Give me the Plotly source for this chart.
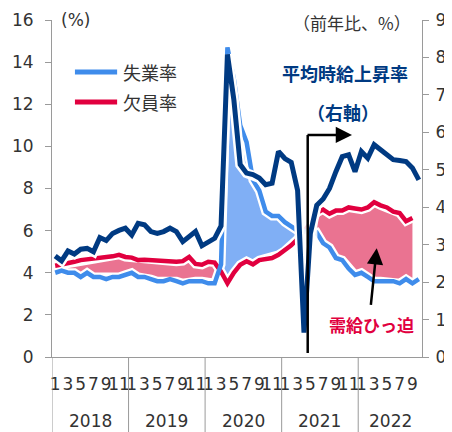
import plotly.graph_objects as go

# ---------------- data ----------------
years = [2018, 2019, 2020, 2021, 2022]
months_in_year = [12, 12, 12, 12, 10]

# unemployment rate (%), left axis, Jan 2018 - Oct 2022
unemployment = [
    4.0, 4.1, 4.0, 4.0, 3.8, 4.0, 3.8, 3.8, 3.7, 3.8, 3.8, 3.9,
    4.0, 3.8, 3.8, 3.7, 3.6, 3.6, 3.7, 3.6, 3.5, 3.6, 3.6, 3.6,
    3.5, 3.5, 4.4, 14.7, 13.2, 11.0, 10.2, 8.4, 7.9, 6.9, 6.7, 6.7,
    6.4, 6.2, 6.0, 6.0, 5.8, 5.9, 5.4, 5.2, 4.7, 4.6, 4.2, 3.9,
    4.0, 3.8, 3.6, 3.6, 3.6, 3.6, 3.5, 3.7, 3.5, 3.7,
]

# job openings (vacancy) rate (%), left axis, Jan 2018 - Sep 2022
vacancy = [
    4.33, 4.38, 4.45, 4.52, 4.60, 4.64, 4.65, 4.67, 4.72, 4.78, 4.85, 4.75,
    4.72, 4.60, 4.62, 4.60, 4.55, 4.53, 4.52, 4.52, 4.55, 4.75, 4.42, 4.38,
    4.52, 4.48, 4.05, 3.50, 4.00, 4.38, 4.55, 4.40, 4.60, 4.65, 4.70, 4.85,
    5.05, 5.30, 5.60, 5.95, 6.35, 6.85, 7.00, 6.80, 6.95, 6.95, 7.10, 7.05,
    7.00, 7.10, 7.35, 7.20, 7.10, 6.90, 6.83, 6.45, 6.60,
]

# average hourly earnings growth (y/y %), right axis, Jan 2018 - Oct 2022
wage = [
    2.70, 2.57, 2.83, 2.75, 2.88, 2.90, 2.81, 3.19, 3.11, 3.30, 3.38, 3.44,
    3.26, 3.57, 3.53, 3.35, 3.30, 3.35, 3.44, 3.35, 3.08, 3.21, 3.35, 2.97,
    3.08, 3.17, 3.50, 8.08, 6.88, 5.14, 4.91, 4.87, 4.78, 4.60, 4.64, 5.49,
    5.30, 5.20, 4.45, 0.65, 3.30, 4.05, 4.22, 4.50, 4.95, 5.35, 5.40, 4.95,
    5.49, 5.31, 5.67, 5.54, 5.40, 5.27, 5.25, 5.22, 5.05, 4.73,
]

left_ticks = list(range(0, 17, 2))
right_ticks = list(range(0, 10))

# ---------------- colors ----------------
C_UNEMP = "#3F8CEB"
C_VAC = "#E1003F"
C_WAGE = "#003A82"
F_PINK = "#EA7391"
F_BLUE = "#80AFF5"
AXIS = "#9A9A9A"
TXT = "#333333"
JP = "Noto Sans CJK JP"

# ---------------- x positions ----------------
month_num = []
for y, c in zip(years, months_in_year):
    month_num += list(range(1, c + 1))
x_all = list(range(len(unemployment)))
tickvals = [i for i, m in enumerate(month_num) if m % 2 == 1]
ticktext = [str(month_num[i]) for i in tickvals]

# ---------------- fill polygons (with crossings) ----------------
n = len(vacancy)
xs, us, vs = [], [], []
for i in range(n):
    xs.append(i); us.append(unemployment[i]); vs.append(vacancy[i])
    if i < n - 1:
        d0 = vacancy[i] - unemployment[i]
        d1 = vacancy[i + 1] - unemployment[i + 1]
        if d0 * d1 < 0:
            t = d0 / (d0 - d1)
            uu = unemployment[i] + t * (unemployment[i + 1] - unemployment[i])
            xs.append(i + t); us.append(uu); vs.append(uu)
upper = [max(a, b) for a, b in zip(us, vs)]

fig = go.Figure()
nohover = dict(hoverinfo="skip", showlegend=False)

# pink: vacancy above unemployment
fig.add_trace(go.Scatter(x=xs, y=us, mode="lines", line=dict(width=0), **nohover))
fig.add_trace(go.Scatter(x=xs, y=upper, mode="lines", line=dict(width=0),
                         fill="tonexty", fillcolor=F_PINK, **nohover))
# light blue: unemployment above vacancy
fig.add_trace(go.Scatter(x=xs, y=vs, mode="lines", line=dict(width=0), **nohover))
fig.add_trace(go.Scatter(x=xs, y=upper, mode="lines", line=dict(width=0),
                         fill="tonexty", fillcolor=F_BLUE, **nohover))

# white glows
fig.add_trace(go.Scatter(x=x_all, y=unemployment, mode="lines",
                         line=dict(color="white", width=9), **nohover))
fig.add_trace(go.Scatter(x=x_all[:n], y=vacancy, mode="lines",
                         line=dict(color="white", width=9), **nohover))
# lines
fig.add_trace(go.Scatter(x=x_all[:n], y=vacancy, mode="lines", name="欠員率",
                         line=dict(color=C_VAC, width=4.5), showlegend=False))
fig.add_trace(go.Scatter(x=x_all, y=unemployment, mode="lines", name="失業率",
                         line=dict(color=C_UNEMP, width=4.5), showlegend=False))

# white veil behind the arrow (decoration)
fig.add_trace(go.Scatter(x=[37.8, 41.1, 41.1, 37.8, 37.8], y=[4.2, 4.2, 8.2, 8.2, 4.2],
                         mode="lines", line=dict(width=0), fill="toself",
                         fillcolor="rgba(255,255,255,0.85)", **nohover))

# wage on right axis
fig.add_trace(go.Scatter(x=x_all, y=wage, mode="lines", yaxis="y2",
                         line=dict(color="white", width=10), **nohover))
fig.add_trace(go.Scatter(x=x_all, y=wage, mode="lines", yaxis="y2", name="平均時給上昇率",
                         line=dict(color=C_WAGE, width=5), showlegend=False))

# ---------------- layout ----------------
# the page body has an 8px margin, so the figure is sized/offset to compensate
axis_common = dict(showgrid=False, zeroline=False, showline=True, linecolor=AXIS,
                   linewidth=1, tickcolor=AXIS, tickfont=dict(size=17, color=TXT,
                   family="DejaVu Sans"), automargin=False)
fig.update_layout(
    width=444, height=424,
    margin=dict(l=44, r=30, t=12, b=75),
    plot_bgcolor="white", paper_bgcolor="white",
    showlegend=False,
    font=dict(family="DejaVu Sans", size=17, color=TXT),
    xaxis=dict(range=[-0.5, len(unemployment) - 0.5], tickmode="array",
               tickvals=tickvals, ticktext=ticktext, tickangle=0, ticks="",
               ticklabelstandoff=12, **axis_common),
    yaxis=dict(range=[0, 16], tickmode="array", tickvals=left_ticks, ticks="outside",
               ticklen=6, ticklabelstandoff=8, **axis_common),
    yaxis2=dict(range=[0, 9], tickmode="array", tickvals=right_ticks, ticks="outside",
                ticklen=6, overlaying="y", side="right", ticklabelstandoff=3, **axis_common),
)

shapes = []
# year dividers below the axis
starts = []
s = 0
for c in months_in_year:
    starts.append(s)
    s += c
for st in starts:
    shapes.append(dict(type="line", xref="x", yref="paper", x0=st - 0.5, x1=st - 0.5,
                       y0=0, y1=-0.235, line=dict(color=AXIS, width=1)))
# legend samples
shapes.append(dict(type="line", xref="paper", yref="paper", x0=0.062, x1=0.176,
                   y0=0.8457, y1=0.8457, line=dict(color=C_UNEMP, width=5)))
shapes.append(dict(type="line", xref="paper", yref="paper", x0=0.062, x1=0.176,
                   y0=0.7567, y1=0.7567, line=dict(color=C_VAC, width=5)))
# vertical part of elbow arrow
shapes.append(dict(type="line", xref="paper", yref="paper", x0=0.6911, x1=0.6911,
                   y0=0.0119, y1=0.6588, line=dict(color="black", width=2.5), layer="above"))
fig.update_layout(shapes=shapes)

ann = []
for y, st, c in zip(years, starts, months_in_year):
    ann.append(dict(text=str(y), xref="x", yref="paper", x=st + (c - 1) / 2, y=-0.19,
                    showarrow=False, font=dict(size=17, color=TXT, family="DejaVu Sans"),
                    xanchor="center", yanchor="middle"))
ann.append(dict(text="(%)", xref="paper", yref="paper", x=0.02, y=1.0, showarrow=False,
                xanchor="left", yanchor="middle", font=dict(size=17, color=TXT)))
ann.append(dict(text="（前年比、%）", xref="paper", yref="paper", x=0.975, y=0.994,
                showarrow=False, xanchor="right", yanchor="middle",
                font=dict(size=17, color=TXT, family=JP)))
ann.append(dict(text="失業率", xref="paper", yref="paper", x=0.1865, y=0.8457,
                showarrow=False, xanchor="left", yanchor="middle",
                font=dict(size=18, color=TXT, family=JP)))
ann.append(dict(text="欠員率", xref="paper", yref="paper", x=0.1865, y=0.7567,
                showarrow=False, xanchor="left", yanchor="middle",
                font=dict(size=18, color=TXT, family=JP)))
ann.append(dict(text="<b>平均時給上昇率</b>", xref="paper", yref="paper", x=0.792, y=0.8427,
                showarrow=False, xanchor="center", yanchor="middle",
                font=dict(size=18, color=C_WAGE, family=JP)))
ann.append(dict(text="<b>（右軸）</b>", xref="paper", yref="paper", x=0.7865, y=0.7279,
                showarrow=False, xanchor="center", yanchor="middle",
                font=dict(size=18, color=C_WAGE, family=JP)))
ann.append(dict(text="<b>需給ひっ迫</b>", xref="paper", yref="paper", x=0.864, y=0.095,
                showarrow=False, xanchor="center", yanchor="middle",
                font=dict(size=17, color=C_VAC, family=JP)))
# horizontal arrow
ann.append(dict(text="", xref="paper", yref="paper", x=0.8108, y=0.6588,
                ax=-46, ay=0, showarrow=True, arrowhead=2, arrowsize=1.3,
                arrowwidth=2.5, arrowcolor="black", standoff=0, startstandoff=0))
# arrow to pink area
ann.append(dict(text="", xref="paper", yref="paper", x=0.8776, y=0.3226,
                ax=-6, ay=58, showarrow=True, arrowhead=2, arrowsize=1.3,
                arrowwidth=2.5, arrowcolor="black", standoff=0, startstandoff=0))
fig.update_layout(annotations=ann)

fig.write_html("out.html")
